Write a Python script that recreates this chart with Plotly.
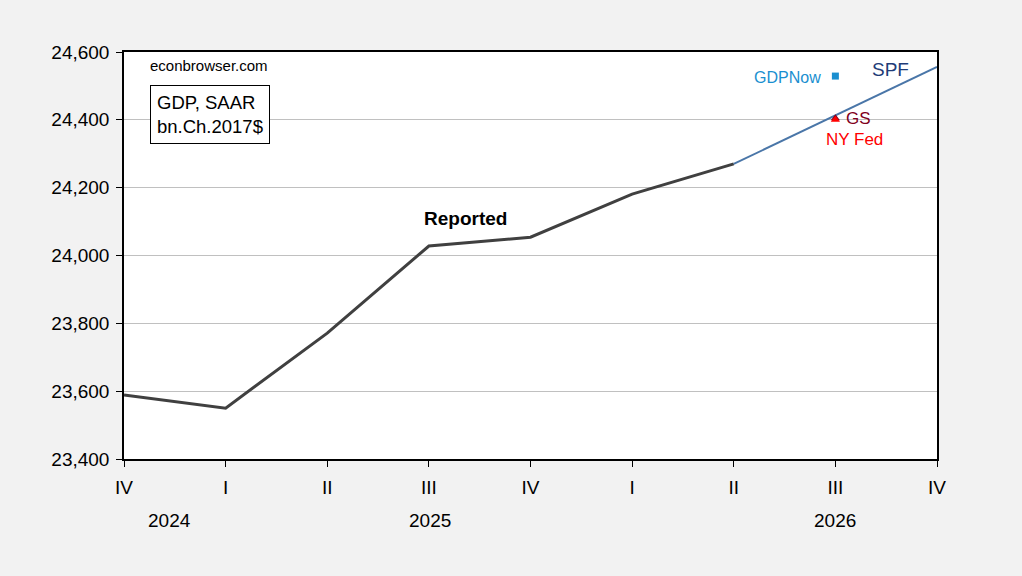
import plotly.graph_objects as go

# Data
quarters = ["IV", "I", "II", "III", "IV", "I", "II", "III", "IV"]
years = ["2024", "2025", "2026"]
reported = [23589, 23550, 23771, 24028, 24054, 24181, 24270]
spf = [24270, 24414, 24556]
gdpnow = [24529]
gs = [24405]
nyfed = [24400]
y_ticks = [23400, 23600, 23800, 24000, 24200, 24400, 24600]

x_all = list(range(len(quarters)))

fig = go.Figure()
fig.add_trace(go.Scatter(x=x_all[:len(reported)], y=reported, mode="lines",
                         line=dict(color="#404040", width=3), showlegend=False))
fig.add_trace(go.Scatter(x=x_all[6:9], y=spf, mode="lines",
                         line=dict(color="#4a76a8", width=2), showlegend=False))
fig.add_trace(go.Scatter(x=[7], y=gdpnow, mode="markers",
                         marker=dict(symbol="square", size=7, color="#1a8fd0"), showlegend=False))
fig.add_trace(go.Scatter(x=[7], y=gs, mode="markers",
                         marker=dict(symbol="triangle-up", size=8, color="#800020"), showlegend=False))
fig.add_trace(go.Scatter(x=[7], y=nyfed, mode="markers",
                         marker=dict(symbol="triangle-up", size=8, color="#ff0000"), showlegend=False))

font_family = "Liberation Sans, Arial, sans-serif"
ann = [
    dict(x=0.84, y=24559, text="econbrowser.com", font=dict(size=15, color="black")),
    dict(x=0.85, y=24417, text="GDP, SAAR<br>bn.Ch.2017$", font=dict(size=18.5, color="black"),
         bordercolor="black", borderwidth=1, borderpad=6, bgcolor="white", align="left"),
    dict(x=3.36, y=24108, text="<b>Reported</b>", font=dict(size=19, color="black")),
    dict(x=6.53, y=24526, text="GDPNow", font=dict(size=16, color="#1a8fd0")),
    dict(x=7.54, y=24548, text="SPF", font=dict(size=19, color="#1f3c78")),
    dict(x=7.23, y=24405, text="GS", font=dict(size=17, color="#800020")),
    dict(x=7.19, y=24343, text="NY Fed", font=dict(size=17, color="#ff0000")),
]
annotations = [dict(xref="x", yref="y", showarrow=False, **a) for a in ann]
for yr, xp in zip(years, [0.45, 3.01, 7.0]):
    annotations.append(dict(x=xp, y=-0.15, xref="x", yref="paper", yanchor="middle",
                            text=yr, showarrow=False, font=dict(size=19, color="black")))

fig.update_layout(
    width=1022, height=576,
    margin=dict(l=124, r=85, t=52, b=117),
    paper_bgcolor="#f2f2f2", plot_bgcolor="white",
    font=dict(family=font_family, size=19, color="black"),
    annotations=annotations,
)
fig.update_xaxes(range=[0, 8], tickvals=x_all, ticktext=quarters, showgrid=False,
                 showline=True, linecolor="black", linewidth=1.5, mirror=True,
                 ticks="outside", ticklen=6, tickcolor="black", tickfont=dict(size=19),
                 ticklabelstandoff=4, zeroline=False)
fig.update_yaxes(range=[23400, 24600], tickvals=y_ticks, tickformat=",", showgrid=True,
                 gridcolor="#c0c0c0", gridwidth=1, showline=True, linecolor="black",
                 linewidth=1.5, mirror=True, ticks="outside", ticklen=6, tickcolor="black",
                 tickfont=dict(size=19), ticklabelstandoff=3, zeroline=False)

fig.write_html("out.html", config={"displayModeBar": False},
               post_script="document.body.style.margin='0px';document.body.style.overflow='hidden';")
